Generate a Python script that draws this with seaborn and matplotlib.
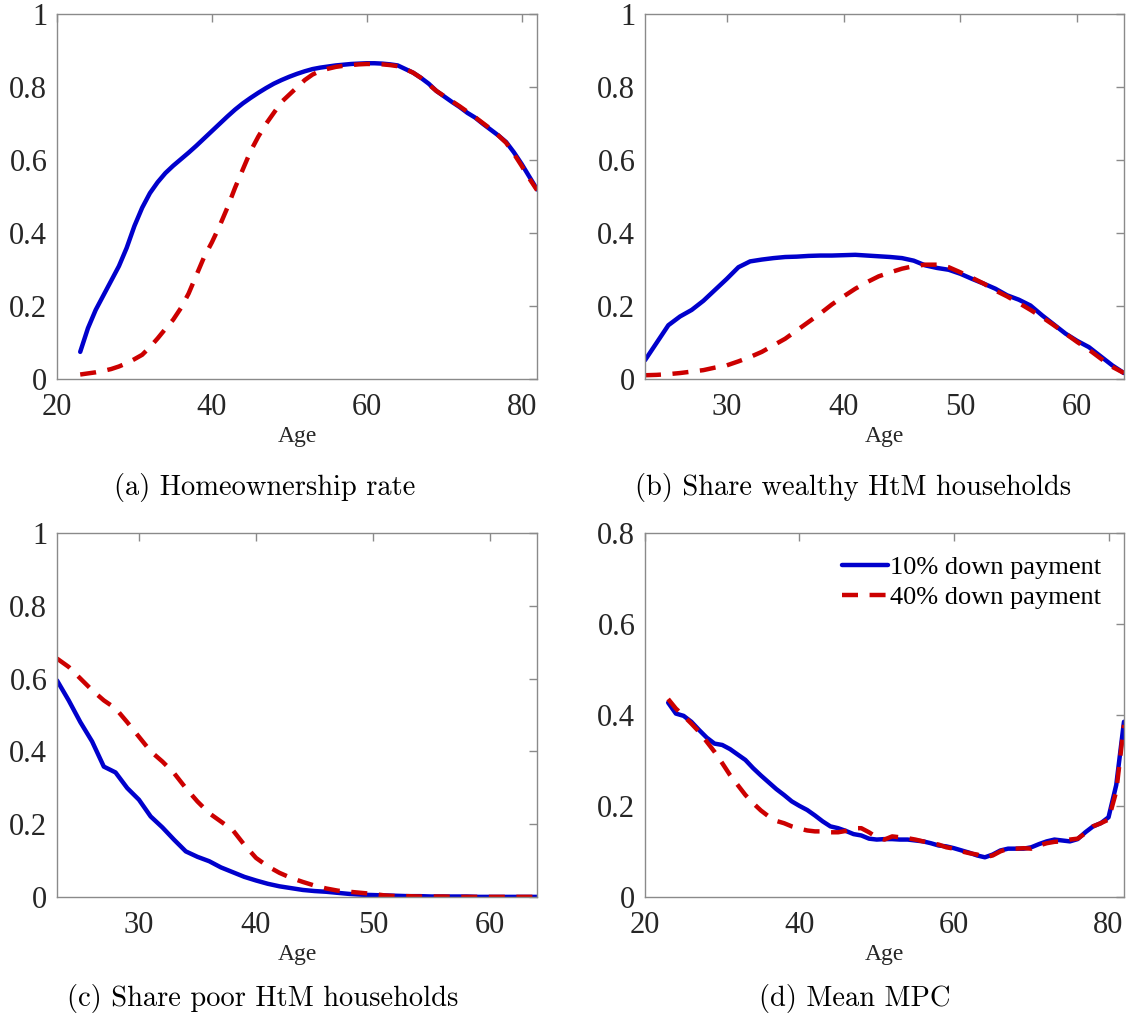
import os
import numpy as np
import pandas as pd
import matplotlib
matplotlib.use("Agg")
import matplotlib.pyplot as plt
from matplotlib.ticker import FuncFormatter
from matplotlib.font_manager import FontProperties
import seaborn as sns

# ---------------- data ----------------
age_long = list(range(23, 83))   # 23..82
age_short = list(range(23, 65))  # 23..64

home_10 = [0.075, 0.14, 0.19, 0.23, 0.27, 0.31, 0.36, 0.42, 0.47, 0.51,
           0.54, 0.565, 0.585, 0.603, 0.621, 0.64, 0.66, 0.68, 0.70, 0.72,
           0.739, 0.756, 0.771, 0.785, 0.798, 0.81, 0.82, 0.829, 0.837, 0.844,
           0.85, 0.854, 0.857, 0.86, 0.862, 0.864, 0.865, 0.866, 0.866, 0.865,
           0.863, 0.86, 0.85, 0.84, 0.826, 0.81, 0.79, 0.775, 0.76, 0.746,
           0.73, 0.717, 0.70, 0.684, 0.668, 0.65, 0.622, 0.59, 0.555, 0.52]
home_40 = [0.013, 0.016, 0.019, 0.023, 0.028, 0.035, 0.044, 0.055, 0.067, 0.088,
           0.112, 0.138, 0.163, 0.195, 0.235, 0.285, 0.335, 0.375, 0.42, 0.47,
           0.525, 0.575, 0.625, 0.665, 0.70, 0.73, 0.76, 0.78, 0.80, 0.82,
           0.835, 0.845, 0.851, 0.856, 0.859, 0.861, 0.863, 0.864, 0.864, 0.863,
           0.861, 0.858, 0.85, 0.84, 0.826, 0.808, 0.79, 0.776, 0.762, 0.748,
           0.733, 0.718, 0.702, 0.686, 0.668, 0.648, 0.618, 0.585, 0.55, 0.518]

whtm_10 = [0.052, 0.10, 0.148, 0.172, 0.19, 0.215, 0.245, 0.275, 0.307, 0.323,
           0.328, 0.332, 0.335, 0.336, 0.338, 0.339, 0.339, 0.34, 0.341, 0.339,
           0.337, 0.335, 0.332, 0.325, 0.312, 0.305, 0.30, 0.289, 0.275, 0.262,
           0.248, 0.23, 0.218, 0.202, 0.175, 0.15, 0.125, 0.105, 0.088, 0.063,
           0.038, 0.017]
whtm_40 = [0.011, 0.012, 0.014, 0.017, 0.021, 0.025, 0.032, 0.038, 0.049, 0.061,
           0.075, 0.093, 0.111, 0.134, 0.157, 0.18, 0.205, 0.227, 0.248, 0.266,
           0.282, 0.293, 0.303, 0.31, 0.314, 0.314, 0.307, 0.293, 0.278, 0.262,
           0.243, 0.227, 0.209, 0.19, 0.17, 0.148, 0.125, 0.102, 0.081, 0.057,
           0.034, 0.017]

phtm_10 = [0.595, 0.54, 0.48, 0.427, 0.358, 0.342, 0.299, 0.267, 0.221, 0.191,
           0.157, 0.125, 0.11, 0.098, 0.081, 0.068, 0.055, 0.045, 0.036, 0.029,
           0.024, 0.019, 0.016, 0.014, 0.011, 0.008, 0.006, 0.005, 0.004, 0.003,
           0.002, 0.002, 0.001, 0.001, 0.001, 0.001, 0.0, 0.0, 0.0, 0.0,
           0.0, 0.0]
phtm_40 = [0.655, 0.632, 0.60, 0.568, 0.54, 0.518, 0.48, 0.44, 0.40, 0.372,
           0.34, 0.299, 0.262, 0.23, 0.207, 0.184, 0.143, 0.107, 0.084, 0.066,
           0.052, 0.041, 0.031, 0.023, 0.017, 0.014, 0.011, 0.008, 0.004, 0.002,
           0.002, 0.001, 0.001, 0.001, 0.0, 0.0, 0.0, 0.0, 0.0, 0.0,
           0.0, 0.0]

mpc_10 = [0.427, 0.403, 0.398, 0.385, 0.367, 0.35, 0.337, 0.334, 0.325, 0.313,
          0.301, 0.283, 0.267, 0.252, 0.237, 0.224, 0.21, 0.20, 0.191, 0.179,
          0.166, 0.155, 0.151, 0.145, 0.138, 0.135, 0.128, 0.126, 0.127, 0.127,
          0.126, 0.126, 0.124, 0.122, 0.118, 0.113, 0.111, 0.107, 0.102, 0.097,
          0.091, 0.087, 0.093, 0.102, 0.106, 0.106, 0.106, 0.109, 0.116, 0.122,
          0.126, 0.124, 0.122, 0.127, 0.142, 0.155, 0.162, 0.175, 0.246, 0.385]
mpc_40 = [0.435, 0.414, 0.398, 0.381, 0.363, 0.341, 0.319, 0.294, 0.268, 0.246,
          0.224, 0.206, 0.19, 0.177, 0.167, 0.162, 0.155, 0.15, 0.146, 0.144,
          0.144, 0.142, 0.142, 0.145, 0.151, 0.151, 0.142, 0.131, 0.126, 0.133,
          0.131, 0.129, 0.126, 0.122, 0.118, 0.115, 0.109, 0.106, 0.10, 0.096,
          0.093, 0.087, 0.091, 0.10, 0.106, 0.106, 0.107, 0.106, 0.113, 0.118,
          0.121, 0.122, 0.126, 0.128, 0.14, 0.155, 0.162, 0.17, 0.232, 0.378]

series_labels = ["10% down payment", "40% down payment"]
captions = ["(a) Homeownership rate", "(b) Share wealthy HtM households",
            "(c) Share poor HtM households", "(d) Mean MPC"]

# ---------------- style ----------------
sns.set_theme(style="white")
plt.rcParams["font.family"] = ["Liberation Serif", "DejaVu Serif"]
plt.rcParams["axes.linewidth"] = 1.0

BLUE = "#0000CC"
RED = "#CC0000"
SPINE = "#8a8a8a"
TXT = "#262626"

cmr_path = os.path.join(matplotlib.get_data_path(), "fonts", "ttf", "cmr10.ttf")
if os.path.exists(cmr_path):
    cap_font = FontProperties(fname=cmr_path, size=20.5)
else:
    cap_font = FontProperties(family="DejaVu Serif", size=20)

fig = plt.figure(figsize=(11.26, 10.25), dpi=100)

positions = [
    [0.0506, 0.630, 0.4264, 0.356],
    [0.5728, 0.630, 0.4254, 0.356],
    [0.0506, 0.125, 0.4264, 0.355],
    [0.5728, 0.125, 0.4254, 0.355],
]

panels = [
    (age_long, home_10, home_40, (20, 82), [20, 40, 60, 80], (0, 1), [0, 0.2, 0.4, 0.6, 0.8, 1]),
    (age_short, whtm_10, whtm_40, (23, 64), [30, 40, 50, 60], (0, 1), [0, 0.2, 0.4, 0.6, 0.8, 1]),
    (age_short, phtm_10, phtm_40, (23, 64), [30, 40, 50, 60], (0, 1), [0, 0.2, 0.4, 0.6, 0.8, 1]),
    (age_long, mpc_10, mpc_40, (20, 82), [20, 40, 60, 80], (0, 0.8), [0, 0.2, 0.4, 0.6, 0.8]),
]

fmt = FuncFormatter(lambda v, p: f"{v:g}")

for i, (ages, s10, s40, xl, xt, yl, yt) in enumerate(panels):
    ax = fig.add_axes(positions[i])
    df = pd.DataFrame({"Age": ages, "s10": s10, "s40": s40})
    sns.lineplot(data=df, x="Age", y="s10", color=BLUE, lw=3.2, ax=ax,
                 label=series_labels[0], errorbar=None)
    sns.lineplot(data=df, x="Age", y="s40", color=RED, lw=3.2, ax=ax,
                 label=series_labels[1], errorbar=None,
                 linestyle=(0, (3.6, 2.6)))
    ax.set_xlim(*xl)
    ax.set_ylim(*yl)
    ax.set_xticks(xt)
    ax.set_yticks(yt)
    ax.xaxis.set_major_formatter(fmt)
    ax.yaxis.set_major_formatter(fmt)
    ax.set_xlabel("Age", fontsize=17, color=TXT, labelpad=3)
    ax.set_ylabel("")
    ax.tick_params(axis="both", direction="in", length=6, width=1.0,
                   color=SPINE, labelsize=22, labelcolor=TXT,
                   top=True, right=True)
    ax.tick_params(axis="x", pad=10)
    ax.tick_params(axis="y", pad=7)
    for sp in ax.spines.values():
        sp.set_visible(True)
        sp.set_color(SPINE)
        sp.set_linewidth(1.0)
    if i == 3:
        leg = ax.legend(loc="upper right", frameon=False, fontsize=19,
                        handlelength=1.75, handletextpad=0.1,
                        borderaxespad=0.45, labelspacing=0.25)
        for t in leg.get_texts():
            t.set_color("black")
    else:
        ax.get_legend().remove()

cap_pos = [(0.235, 0.524), (0.758, 0.524), (0.233, 0.026), (0.759, 0.026)]
for (x, y), c in zip(cap_pos, captions):
    fig.text(x, y, c, ha="center", va="center", fontproperties=cap_font,
             color="black")

fig.savefig("out.png", dpi=100)
